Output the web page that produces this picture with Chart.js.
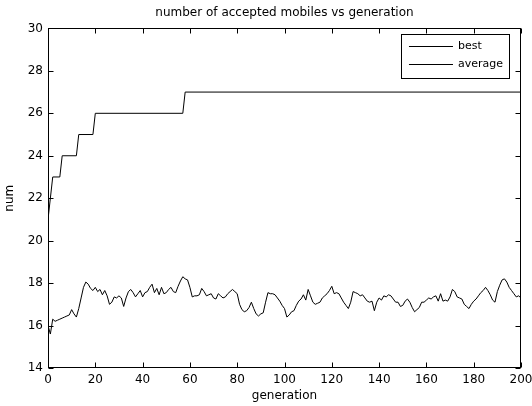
<!DOCTYPE html>
<html><head><meta charset="utf-8">
<script src="https://cdn.jsdelivr.net/npm/chart.js@4.4.0/dist/chart.umd.min.js"></script>
<style>html,body{margin:0;padding:0;background:#fff;}#wrap{width:532px;height:406px;}</style>
</head><body><div id="wrap"><canvas id="c" width="532" height="406"></canvas></div>
<script>
const titleText = 'number of accepted mobiles vs generation';
const xTitle = 'generation';
const yTitle = 'num';
const xTicks = [0,20,40,60,80,100,120,140,160,180,200];
const yTicks = [14,16,18,20,22,24,26,28,30];
const seriesNames = ['best','average'];
// best: generation at which each level starts/ends (step curve)
const bestGen = [0,1,2,5,6,12,13,19,20,57,58,200];
const bestVal = [21,22,23,23,24,24,25,25,26,26,27,27];
// average per generation 0..200
const avgVal = [
16.0,15.6,16.3,16.2,16.25,16.3,16.35,16.4,16.45,16.5,
16.75,16.55,16.4,16.8,17.3,17.8,18.05,17.95,17.75,17.65,
17.8,17.6,17.7,17.45,17.65,17.4,17.0,17.1,17.35,17.3,
17.4,17.3,16.9,17.3,17.6,17.7,17.55,17.35,17.5,17.65,
17.35,17.55,17.6,17.8,17.95,17.55,17.75,17.45,17.8,17.5,
17.55,17.7,17.8,17.6,17.55,17.85,18.1,18.3,18.2,18.15,
17.8,17.35,17.4,17.4,17.45,17.75,17.6,17.4,17.45,17.5,
17.3,17.25,17.5,17.4,17.3,17.35,17.5,17.6,17.7,17.6,
17.5,17.0,16.75,16.65,16.7,16.85,17.1,16.8,16.55,16.45,
16.55,16.6,17.1,17.55,17.5,17.5,17.45,17.3,17.15,16.95,
16.8,16.4,16.5,16.65,16.7,16.95,17.15,17.25,17.45,17.2,
17.7,17.4,17.1,17.0,17.05,17.1,17.3,17.4,17.5,17.65,
17.85,17.5,17.55,17.5,17.3,17.1,16.95,16.8,17.1,17.6,
17.55,17.5,17.4,17.45,17.3,17.15,17.1,17.15,16.7,17.1,
17.3,17.2,17.4,17.35,17.45,17.4,17.25,17.1,17.1,16.9,
16.95,17.15,17.25,17.1,16.85,16.65,16.75,16.85,17.1,17.1,
17.2,17.3,17.25,17.35,17.4,17.15,17.5,17.15,17.2,17.15,
17.35,17.7,17.6,17.35,17.3,17.25,17.0,16.9,16.8,17.0,
17.15,17.25,17.4,17.55,17.65,17.8,17.65,17.45,17.2,17.1,
17.6,17.9,18.15,18.2,18.05,17.8,17.65,17.5,17.35,17.4,
17.3
];

const FONT = 'DejaVu Sans';
const baseFont = {family: FONT, size: 12, weight: 'normal'};

const framePlugin = {
  id: 'frame',
  afterDatasetsDraw(chart) {
    const ctx = chart.ctx, ca = chart.chartArea;
    const xs = chart.scales.x, ys = chart.scales.y;
    const L = Math.round(ca.left) + 0.5, R = Math.round(ca.right) - 0.5;
    const T = Math.round(ca.top) + 0.5, B = Math.round(ca.bottom) - 0.5;
    ctx.save();
    ctx.strokeStyle = '#000';
    ctx.lineWidth = 1;
    ctx.strokeRect(L, T, R - L, B - T);
    const tl = 5;
    ctx.beginPath();
    xTicks.forEach(v => {
      const px = Math.round(xs.getPixelForValue(v)) + 0.5;
      ctx.moveTo(px, B); ctx.lineTo(px, B - tl);
      ctx.moveTo(px, T); ctx.lineTo(px, T + tl);
    });
    yTicks.forEach(v => {
      const py = Math.round(ys.getPixelForValue(v)) + 0.5;
      ctx.moveTo(L, py); ctx.lineTo(L + tl, py);
      ctx.moveTo(R, py); ctx.lineTo(R - tl, py);
    });
    ctx.stroke();
    ctx.restore();
  }
};

const legendPlugin = {
  id: 'boxLegend',
  afterDraw(chart) {
    const ctx = chart.ctx, ca = chart.chartArea;
    ctx.save();
    ctx.font = '11px "' + FONT + '"';
    const labels = chart.data.datasets.map(d => d.label);
    const tw = Math.max(...labels.map(t => ctx.measureText(t).width));
    const padL = 8, lineLen = 44, gap = 5, padR = 6, rowH = 18;
    const w = padL + lineLen + gap + tw + padR;
    const h = 8 + rowH * labels.length + 0;
    const right = Math.round(ca.right) - 12;
    const top = Math.round(ca.top) + 6;
    const left = right - w;
    ctx.fillStyle = '#fff';
    ctx.fillRect(left, top, w, h);
    ctx.strokeStyle = '#000';
    ctx.lineWidth = 1;
    ctx.strokeRect(Math.round(left) + 0.5, top + 0.5, Math.round(w), h);
    labels.forEach((t, i) => {
      const cy = Math.round(top + 12 + i * rowH) + 0.5;
      ctx.strokeStyle = chart.data.datasets[i].borderColor;
      ctx.beginPath();
      ctx.moveTo(left + padL, cy);
      ctx.lineTo(left + padL + lineLen, cy);
      ctx.stroke();
      ctx.fillStyle = '#000';
      ctx.textBaseline = 'middle';
      ctx.textAlign = 'left';
      ctx.fillText(t, left + padL + lineLen + gap, cy);
    });
    ctx.restore();
  }
};

const ctx = document.getElementById('c').getContext('2d');
new Chart(ctx, {
  type: 'line',
  data: {
    datasets: [
      {label: seriesNames[0], data: bestGen.map((g, i) => ({x: g, y: bestVal[i]})),
       borderColor: '#000', borderWidth: 1, pointRadius: 0, tension: 0, fill: false},
      {label: seriesNames[1], data: avgVal.map((v, i) => ({x: i, y: v})),
       borderColor: '#000', borderWidth: 1, pointRadius: 0, tension: 0, fill: false}
    ]
  },
  options: {
    responsive: false,
    animation: false,
    events: [],
    layout: {padding: {top: 0, right: 0, bottom: 0, left: 0}},
    plugins: {
      legend: {display: false},
      tooltip: {enabled: false},
      title: {display: true, fullSize: false, text: titleText, color: '#000', font: baseFont, padding: {top: 6, bottom: 8}}
    },
    scales: {
      x: {
        type: 'linear', min: 0, max: 200,
        afterBuildTicks: s => { s.ticks = xTicks.map(v => ({value: v})); },
        grid: {display: false, drawTicks: false},
        border: {display: false},
        ticks: {color: '#000', font: baseFont, padding: 5, maxRotation: 0, autoSkip: false},
        title: {display: true, text: xTitle, color: '#000', font: baseFont, padding: {top: 0, bottom: 3}},
        afterFit: s => { s.height = 38; s.paddingRight = 11; }
      },
      y: {
        type: 'linear', min: 14, max: 30,
        afterBuildTicks: s => { s.ticks = yTicks.map(v => ({value: v})); },
        grid: {display: false, drawTicks: false},
        border: {display: false},
        ticks: {color: '#000', font: baseFont, padding: 5, autoSkip: false},
        title: {display: true, text: yTitle, color: '#000', font: baseFont, padding: {top: 3, bottom: 0}},
        afterFit: s => { s.width = 48; }
      }
    }
  },
  plugins: [framePlugin, legendPlugin]
});
</script>
</body></html>
